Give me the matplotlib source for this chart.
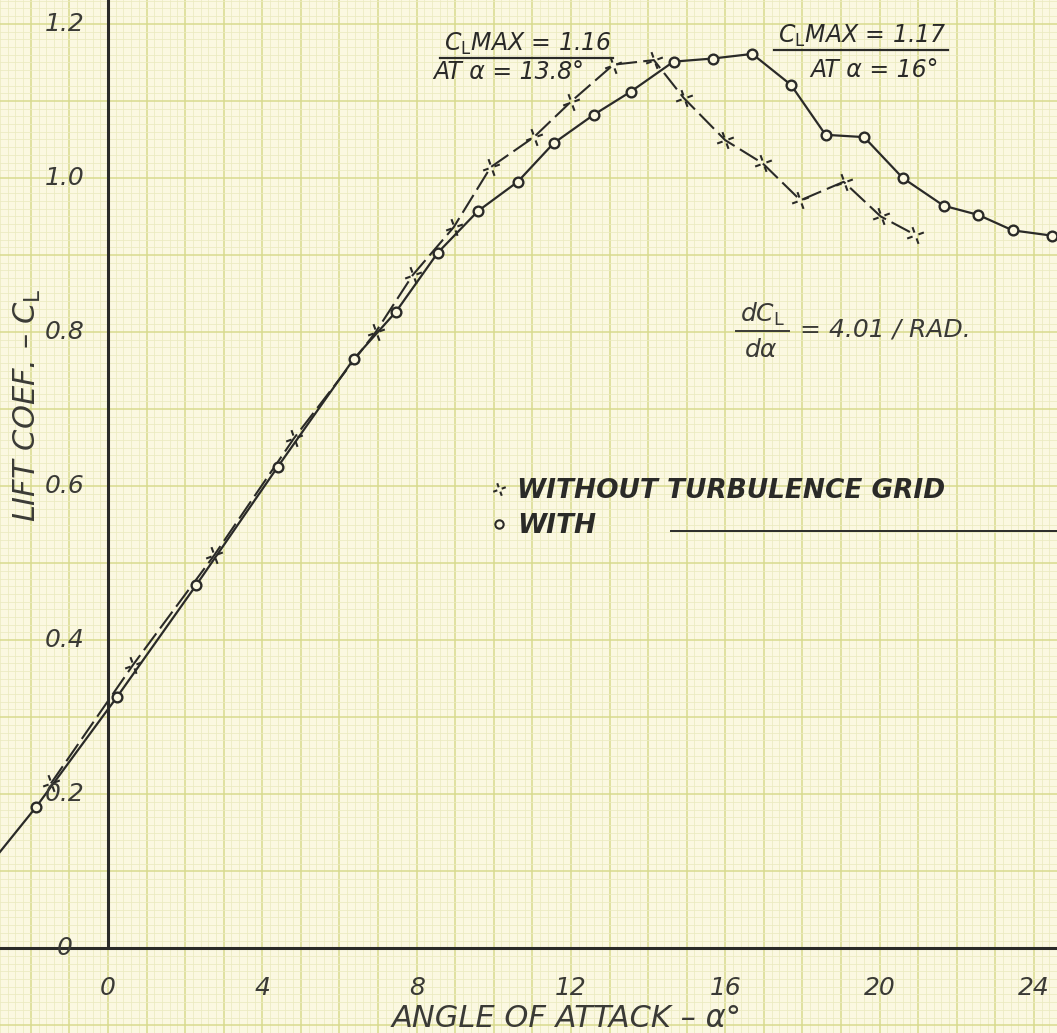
import numpy as np
import matplotlib
matplotlib.use("Agg")
import matplotlib.pyplot as plt
from matplotlib.path import Path
from matplotlib.lines import Line2D
from matplotlib.transforms import IdentityTransform

# ---------------- data ----------------
alpha_without = [-1.48, 0.65, 2.75, 4.82, 6.94, 7.90, 8.96, 9.92, 11.04, 12.00,
                 13.10, 14.15, 14.92, 16.00, 16.97, 17.95, 19.07, 20.03, 20.93]
cl_without = [0.214, 0.368, 0.510, 0.662, 0.800, 0.874, 0.936, 1.014, 1.053, 1.099,
              1.147, 1.153, 1.104, 1.049, 1.019, 0.971, 0.995, 0.950, 0.926]

alpha_with = [-3.80, -1.87, 0.23, 2.28, 4.40, 6.37, 7.46, 8.55, 9.59, 10.62, 11.55,
              12.59, 13.55, 14.66, 15.67, 16.70, 17.70, 18.60, 19.60, 20.60,
              21.66, 22.56, 23.45, 24.48]
cl_with = [0.063, 0.183, 0.326, 0.471, 0.625, 0.765, 0.826, 0.903, 0.957, 0.995, 1.045,
           1.082, 1.112, 1.151, 1.155, 1.161, 1.121, 1.056, 1.053, 1.000,
           0.964, 0.952, 0.932, 0.925]

x_ticks = [0, 4, 8, 12, 16, 20, 24]
x_tick_labels = ["0", "4", "8", "12", "16", "20", "24"]
y_ticks = [0.0, 0.2, 0.4, 0.6, 0.8, 1.0, 1.2]
y_tick_labels = ["0", "0.2", "0.4", "0.6", "0.8", "1.0", "1.2"]

label_without = "WITHOUT TURBULENCE GRID"
label_with = "WITH"
x_title = "ANGLE OF ATTACK – α°"
y_title = "LIFT COEF. – C$_\\mathsf{L}$"

# ---------------- style ----------------
BG = "#fbf8e1"
MINOR = "#ebeac0"
MAJOR = "#d8da8e"
INK = "#2a2a28"
TXT = "#3a3a36"

plt.rcParams["font.family"] = ["DejaVu Sans"]
plt.rcParams["mathtext.fontset"] = "dejavusans"

fig = plt.figure(figsize=(10.57, 10.33), dpi=100, facecolor=BG)
ax = fig.add_axes([0, 0, 1, 1])
ax.set_facecolor(BG)
ax.set_xlim(-2.77, 24.6)
ax.set_ylim(-0.110, 1.231)

# graph-paper grid
ax.set_xticks(np.arange(-2, 25, 1))
ax.set_xticks(np.arange(-2.8, 24.7, 0.2), minor=True)
ax.set_yticks(np.arange(-0.1, 1.25, 0.1))
ax.set_yticks(np.arange(-0.11, 1.24, 0.01), minor=True)
ax.tick_params(which="both", length=0, labelbottom=False, labelleft=False)
ax.grid(which="minor", color=MINOR, lw=0.55)
ax.grid(which="major", color=MAJOR, lw=1.1)
ax.set_axisbelow(True)
for s in ax.spines.values():
    s.set_visible(False)

# axes lines
ax.axhline(0, color=INK, lw=2.2, zorder=2)
ax.vlines(0, 0, 1.3, color=INK, lw=2.2, zorder=2)

# hand-drawn cross marker (four ticks with open centre)
ang = np.deg2rad([20, 110, 200, 290])
verts, codes = [], []
for a in ang:
    verts += [(0.35 * np.cos(a), 0.35 * np.sin(a)), (np.cos(a), np.sin(a))]
    codes += [Path.MOVETO, Path.LINETO]
cross = Path(verts, codes)

ax.plot(alpha_without, cl_without, color=INK, lw=1.5, ls=(0, (10, 3)),
        marker=cross, ms=12, mfc="none", mec=INK, mew=1.5, zorder=3)
ax.plot(alpha_with, cl_with, color=INK, lw=1.6, ls="-",
        marker="o", ms=7, mfc=BG, mec=INK, mew=1.7, zorder=4)

# tick labels
for v, s in zip(x_ticks, x_tick_labels):
    ax.text(v, -0.052, s, ha="center", va="center", fontsize=18,
            style="italic", color=TXT)
for v, s in zip(y_ticks, y_tick_labels):
    ax.text(-1.12, v, s, ha="center", va="center", fontsize=18,
            style="italic", color=TXT, zorder=5)

ax.text(11.9, -0.091, x_title, ha="center", va="center", fontsize=22,
        style="italic", color=TXT)
ax.text(-2.08, 0.705, y_title, ha="center", va="center", fontsize=22,
        style="italic", color=TXT, rotation=90)

# annotations
t1 = ax.text(8.70, 1.174, "C$_\\mathsf{L}$MAX = 1.16", ha="left", va="center",
             fontsize=17, style="italic", color=INK)
ax.text(8.42, 1.138, "AT α = 13.8°", ha="left", va="center",
        fontsize=17, style="italic", color=INK)
t2 = ax.text(17.36, 1.184, "C$_\\mathsf{L}$MAX = 1.17", ha="left", va="center",
             fontsize=17, style="italic", color=INK)
ax.text(18.2, 1.140, "AT α = 16°", ha="left", va="center",
        fontsize=17, style="italic", color=INK)

tn = ax.text(16.97, 0.823, "dC$_\\mathsf{L}$", ha="center", va="center",
             fontsize=18, style="italic", color=TXT)
ax.text(16.92, 0.776, "dα", ha="center", va="center",
        fontsize=18, style="italic", color=TXT)
ax.text(17.95, 0.803, "= 4.01 / RAD.", ha="left", va="center",
        fontsize=18, style="italic", color=TXT)

# legend
h_without = Line2D([], [], ls="none", marker=cross, ms=9, mfc="none", mec=INK, mew=1.5)
h_with = Line2D([], [], ls="none", marker="o", ms=6, mfc=BG, mec=INK, mew=1.5)
leg = ax.legend([h_without, h_with], [label_without, label_with],
                loc="upper left", bbox_to_anchor=(0.452, 0.550), frameon=False,
                handlelength=0.6, handletextpad=0.4, labelspacing=0.35,
                borderpad=0, prop={"size": 19, "style": "italic", "weight": "bold"})
for t in leg.get_texts():
    t.set_color(INK)

# decorations derived from text extents
fig.canvas.draw()
r = fig.canvas.get_renderer()
for t in (t1, t2):
    bb = t.get_window_extent(r)
    fig.add_artist(Line2D([bb.x0 - 4, bb.x1 + 2], [bb.y0 - 1, bb.y0 - 1],
                          transform=IdentityTransform(), color=INK, lw=1.6))
bb = tn.get_window_extent(r)
fig.add_artist(Line2D([bb.x0 - 4, bb.x1 + 4], [bb.y0 - 3, bb.y0 - 3],
                      transform=IdentityTransform(), color=TXT, lw=1.4))
bw = leg.get_texts()[1].get_window_extent(r)
ymid = 0.5 * (bw.y0 + bw.y1) - 5
fig.add_artist(Line2D([bw.x1 + 75, fig.bbox.width], [ymid, ymid],
                      transform=IdentityTransform(), color=INK, lw=1.4))

fig.savefig("out.png", dpi=100, facecolor=BG)
